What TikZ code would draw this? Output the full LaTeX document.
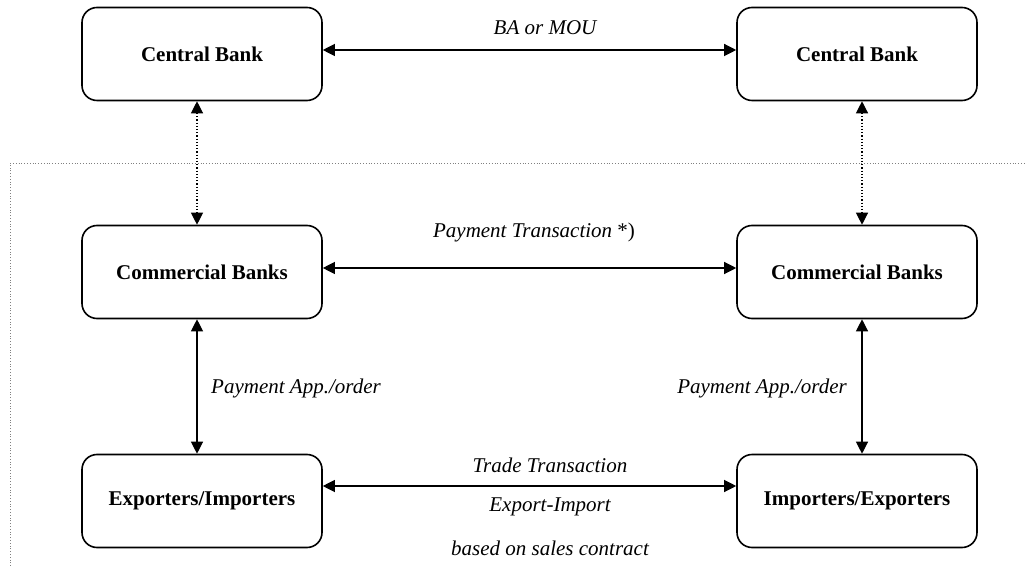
\documentclass[tikz,border=0pt]{standalone}
\usepackage{fontspec}
\setmainfont{Liberation Serif}
\usetikzlibrary{arrows.meta}

\tikzset{
  bankbox/.style={draw, thick, rounded corners=7.5pt, minimum width=120pt,
    minimum height=46.5pt, font=\fontsize{10.5}{12.5}\selectfont\bfseries},
  linklabel/.style={font=\fontsize{10.5}{12.5}\selectfont\itshape},
  both/.style={{Triangle[length=6pt,width=6pt]}-{Triangle[length=6pt,width=6pt]}, semithick}
}

\begin{document}
\begin{tikzpicture}[x=0.5pt, y=-0.5pt]
  \useasboundingbox (0,0) rectangle (1026,566);
  \draw[gray, densely dotted] (10,566) -- (10,163) -- (1026,163);

  \node[bankbox] (cbL) at (202,54) {Central Bank};
  \node[bankbox] (cbR) at (857,54) {Central Bank};
  \node[bankbox] (comL) at (202,272) {Commercial Banks};
  \node[bankbox] (comR) at (857,272) {Commercial Banks};
  \node[bankbox] (expL) at (202,501) {Exporters/Importers};
  \node[bankbox] (impR) at (857,501) {Importers/Exporters};

  \draw[both] ([yshift=2pt]cbL.east) -- ([yshift=2pt]cbR.west);
  \draw[both] ([yshift=2pt]comL.east) -- ([yshift=2pt]comR.west);
  \draw[both] ([yshift=7.5pt]expL.east) -- ([yshift=7.5pt]impR.west);

  \draw[both, densely dotted] ([xshift=-2.5pt]cbL.south) -- ([xshift=-2.5pt]comL.north);
  \draw[both, densely dotted] ([xshift=2.5pt]cbR.south) -- ([xshift=2.5pt]comR.north);
  \draw[both] ([xshift=-2.5pt]comL.south) -- ([xshift=-2.5pt]expL.north);
  \draw[both] ([xshift=2.5pt]comR.south) -- ([xshift=2.5pt]impR.north);

  \node[linklabel] (ba) at (545,28) {BA or MOU};
  \node[linklabel] (pay) at (534,232) {Payment Transaction \upshape*)};
  \node[linklabel] (appL) at (296,388) {Payment App./order};
  \node[linklabel] (appR) at (762,388) {Payment App./order};
  \node[linklabel] (trade) at (550,465) {Trade Transaction};
  \node[linklabel] (expimp) at (550,507) {Export-Import};
  \node[linklabel] (sales) at (550,548) {based on sales contract};
\end{tikzpicture}
\end{document}
